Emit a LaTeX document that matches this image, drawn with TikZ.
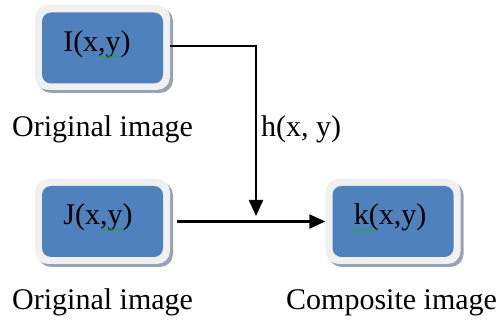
\documentclass[tikz,border=0pt]{standalone}
\usepackage{fontspec}
\setmainfont{Liberation Serif}
\usetikzlibrary{arrows.meta,decorations.pathmorphing,calc}
\definecolor{boxblue}{HTML}{4F81BD}
\definecolor{framegrey}{HTML}{F0F0F0}
\definecolor{shadowgrey}{HTML}{97A2B4}
\definecolor{spellgreen}{HTML}{30A030}
\tikzset{
  frame/.style={fill=framegrey, rounded corners=13pt, minimum width=135pt, minimum height=85pt, inner sep=0pt},
  shadowbox/.style={fill=shadowgrey, rounded corners=13pt, minimum width=135pt, minimum height=85pt, inner sep=0pt},
  innerbox/.style={fill=boxblue, rounded corners=9pt, minimum width=121pt, minimum height=71pt, inner sep=0pt},
  boxtext/.style={font=\rmfamily\fontsize{30}{34}\selectfont, inner sep=0pt},
  lbl/.style={font=\rmfamily\fontsize{30}{34}\selectfont, inner sep=0pt, anchor=base west},
  conn/.style={line width=2.2pt, -{Triangle[length=16pt,width=14pt]}},
  squiggle/.style={spellgreen, line width=0.6pt, decorate, decoration={snake, amplitude=0.8pt, segment length=3pt}}
}
\begin{document}
\begin{tikzpicture}[x=1pt,y=-1pt]
\useasboundingbox (0,0) rectangle (498,320);
% box I
\node[shadowbox] (Is) at (105.5,50.5) {};
\node[frame] (I) at (102.5,47.5) {};
\node[innerbox] (Ii) at (102.5,48) {};
\node[boxtext] (It) at (97,44) {I(x,y)};
% box J
\node[shadowbox] (Js) at (105.5,224.5) {};
\node[frame] (J) at (102.5,221.5) {};
\node[innerbox] (Ji) at (102.5,221.5) {};
\node[boxtext] (Jt) at (98,217) {J(x,y)};
% box k
\node[shadowbox] (ks) at (396,224.5) {};
\node[frame] (k) at (393,221.5) {};
\node[innerbox] (ki) at (393,221.5) {};
\node[boxtext] (kt) at (390,217) {k(x,y)};
% spell-check squiggles
\draw[squiggle] (100,57) -- (121,57);
\draw[squiggle] (102,230) -- (124,230);
\draw[squiggle] (353,230) -- (378,230);
% connectors
\coordinate (join) at (256,216);
\draw[conn] ([yshift=1.5pt]I.east) -| (join);
\draw[conn] ([xshift=7pt]J.east) -- (k.west);
% labels
\node[lbl] (l1) at (12,137) {Original image};
\node[lbl] (l2) at (261,137) {h(x, y)};
\node[lbl] (l3) at (12,309) {Original image};
\node[lbl] (l4) at (286,309) {Composite image};
\end{tikzpicture}
\end{document}
